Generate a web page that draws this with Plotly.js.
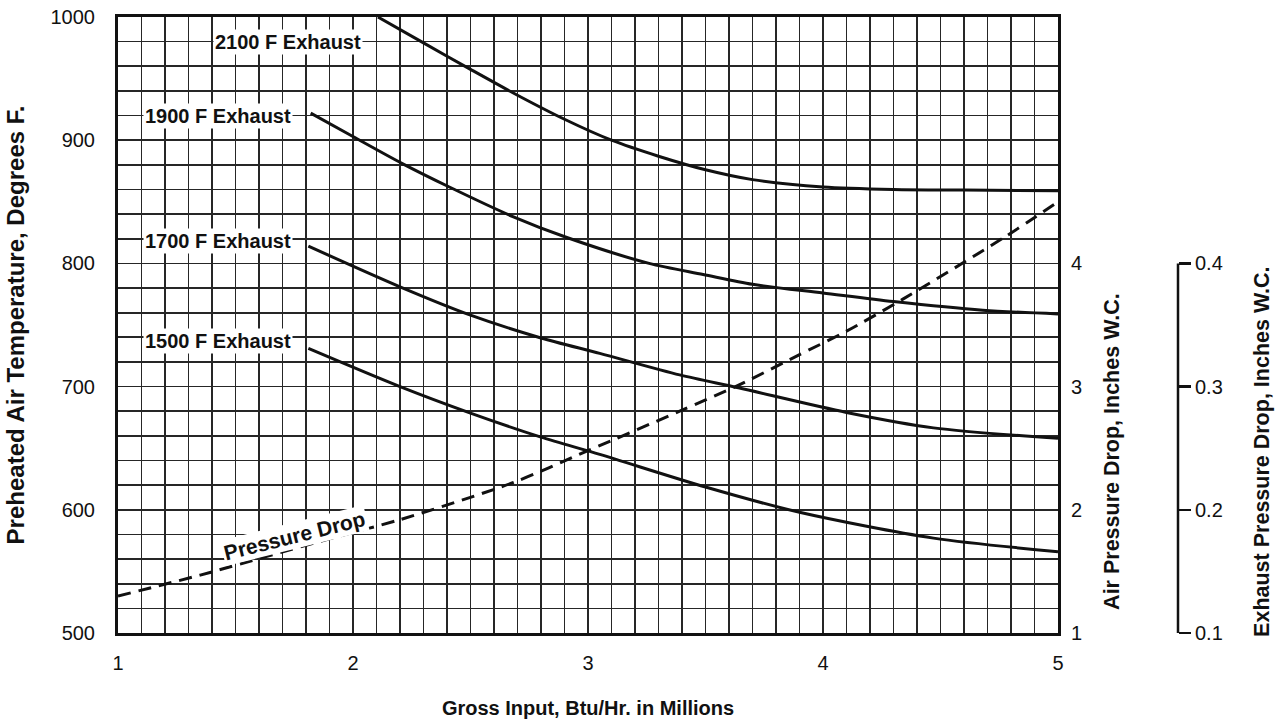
<!DOCTYPE html>
<html>
<head>
<meta charset="utf-8">
<script src="https://cdn.plot.ly/plotly-3.0.1.min.js"></script>
<style>html,body{margin:0;padding:0;background:#fff;}#chart{width:1285px;height:725px;}</style>
</head>
<body>
<div id="chart"></div>
<script>
// Gross input, Btu/Hr in millions
const x2100 = [2.106, 2.3, 2.5, 2.7, 2.9, 3.1, 3.3, 3.5, 3.7, 4.0, 4.3, 4.6, 5.0];
const t2100 = [1000, 979, 957.5, 936.5, 917, 900, 887, 876, 868, 862, 860, 859.5, 859];

const x1900 = [1.82, 1.99, 2.21, 2.41, 2.68, 2.91, 3.26, 3.49, 3.70, 4.0, 4.30, 4.68, 5.0];
const t1900 = [922, 904, 881, 862, 838, 821, 800, 791, 783, 776, 769, 762, 759];

const x1700 = [1.81, 2.2, 2.5, 2.8, 3.05, 3.39, 3.64, 4.1, 4.47, 5.0];
const t1700 = [814, 781, 758, 739.5, 727, 709.5, 699, 679, 666.5, 658];

const x1500 = [1.81, 2.2, 2.5, 2.8, 3.05, 3.5, 3.9, 4.47, 5.0];
const t1500 = [731, 700, 678.5, 659, 645, 618.5, 598, 577, 566];

const xPress = [1.0, 1.35, 1.63, 1.91, 2.2, 2.68, 3.0, 3.39, 3.65, 3.89, 4.1, 4.34, 4.77, 5.0];
const pAir   = [1.30, 1.47, 1.62, 1.77, 1.92, 2.22, 2.48, 2.80, 3.02, 3.25, 3.45, 3.71, 4.21, 4.50];

const xTicks = [1, 2, 3, 4, 5];
const tempTicks = [500, 600, 700, 800, 900, 1000];
const airTicks = [1, 2, 3, 4];
const exhTicks = [0.1, 0.2, 0.3, 0.4];

const curveLabels = ["2100 F Exhaust", "1900 F Exhaust", "1700 F Exhaust", "1500 F Exhaust"];
const labelX = [1.723, 1.426, 1.426, 1.426];
const labelT = [980, 920, 818, 737];

const FONT = "Liberation Sans, Arial, Helvetica, sans-serif";
const solid = {color: "#111", width: 3, shape: "spline", smoothing: 0.8};

// pixel layout: plot spans x 118..1058 of the 1285 px page
const xDomEnd = 940 / 1167;
const exhPos = (1178 - 118) / 1167;

const traces = [
  {x: x2100, y: t2100, mode: "lines", line: solid, name: "2100 F Exhaust"},
  {x: x1900, y: t1900, mode: "lines", line: solid, name: "1900 F Exhaust"},
  {x: x1700, y: t1700, mode: "lines", line: solid, name: "1700 F Exhaust"},
  {x: x1500, y: t1500, mode: "lines", line: solid, name: "1500 F Exhaust"},
  {x: xPress, y: pAir, yaxis: "y2", mode: "lines", name: "Pressure Drop",
   line: {color: "#111", width: 3, dash: "13px,8px", shape: "spline", smoothing: 0.8}}
];

const annotations = curveLabels.map((t, i) => ({
  x: labelX[i], y: labelT[i], xref: "x", yref: "y", text: "<b>" + t + "</b>",
  xanchor: "center", yanchor: "middle",
  showarrow: false, bgcolor: "#fff", borderpad: 1,
  font: {family: FONT, size: 20, color: "#111"}
}));
annotations.push({
  x: 1.753, y: 579.5, xref: "x", yref: "y", text: "<b>Pressure Drop</b>",
  xanchor: "center", yanchor: "middle",
  showarrow: false, textangle: -14, bgcolor: "#fff", borderpad: 1,
  font: {family: FONT, size: 21, color: "#111"}
});
annotations.push({
  x: (1112 - 118) / 1167, y: 0.294, xref: "paper", yref: "paper",
  xanchor: "center", yanchor: "middle",
  text: "<b>Air Pressure Drop, Inches W.C.</b>",
  showarrow: false, textangle: -90, font: {family: FONT, size: 21.5, color: "#111"}
});
annotations.push({
  x: (1262 - 118) / 1167, y: 0.294, xref: "paper", yref: "paper",
  xanchor: "center", yanchor: "middle",
  text: "<b>Exhaust Pressure Drop, Inches W.C.</b>",
  showarrow: false, textangle: -90, font: {family: FONT, size: 21.5, color: "#111"}
});

const gridC = "#262626";
const layout = {
  width: 1285, height: 725,
  margin: {l: 118, r: 0, t: 17, b: 92},
  paper_bgcolor: "#fff", plot_bgcolor: "#fff",
  showlegend: false, hovermode: false,
  font: {family: FONT, color: "#111", size: 19},
  xaxis: {
    domain: [0, xDomEnd],
    range: [1, 5], tickvals: xTicks, ticktext: xTicks.map(String),
    showgrid: true, gridcolor: gridC, gridwidth: 1.7,
    minor: {dtick: 0.1, showgrid: true, gridcolor: gridC, gridwidth: 1.7},
    showline: true, linecolor: "#111", linewidth: 3, mirror: true,
    zeroline: false, ticks: "", ticklabelstandoff: 10,
    tickfont: {family: FONT, size: 20, color: "#111"},
    title: {text: "<b>Gross Input, Btu/Hr. in Millions</b>", standoff: 28,
            font: {family: FONT, size: 20, color: "#111"}}
  },
  yaxis: {
    range: [500, 1000], tickvals: tempTicks,
    showgrid: true, gridcolor: gridC, gridwidth: 1.7,
    minor: {dtick: 20, showgrid: true, gridcolor: gridC, gridwidth: 1.7},
    showline: true, linecolor: "#111", linewidth: 3, mirror: true,
    zeroline: false, ticks: "", ticklabelstandoff: 16,
    tickfont: {family: FONT, size: 20, color: "#111"},
    title: {text: "<b>Preheated Air Temperature, Degrees F.</b>", standoff: 20,
            font: {family: FONT, size: 24, color: "#111"}}
  },
  yaxis2: {
    overlaying: "y", side: "right", anchor: "x", range: [1, 6],
    tickvals: airTicks, showgrid: false, zeroline: false, showline: false,
    ticks: "", ticklabelstandoff: 12,
    tickfont: {family: FONT, size: 20, color: "#111"}
  },
  yaxis3: {
    overlaying: "y", side: "right", anchor: "free", position: exhPos,
    range: [0.1, 0.6], tickvals: exhTicks, ticktext: ["0.1", "0.2", "0.3", "0.4"],
    showgrid: false, zeroline: false, showline: false,
    ticks: "outside", ticklen: 12, tickwidth: 2.5, tickcolor: "#111",
    tickfont: {family: FONT, size: 20, color: "#111"}
  },
  shapes: [{
    type: "line", xref: "paper", yref: "y3", x0: exhPos, x1: exhPos, y0: 0.1, y1: 0.4,
    line: {color: "#111", width: 2.5}
  }],
  annotations: annotations
};

Plotly.newPlot("chart", traces, layout, {staticPlot: true, displayModeBar: false});
</script>
</body>
</html>
